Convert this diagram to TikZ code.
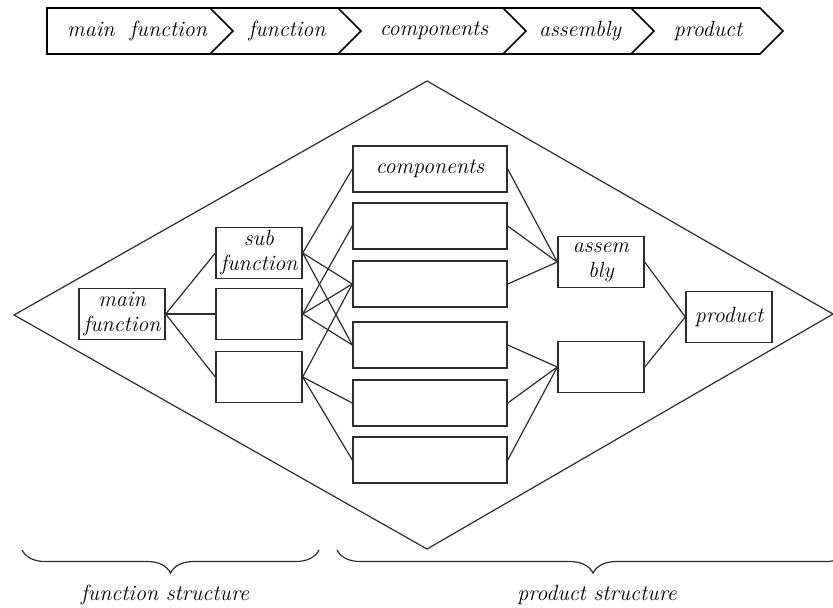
\documentclass[tikz,border=0pt]{standalone}
\usetikzlibrary{decorations.pathreplacing}
\definecolor{linec}{RGB}{45,45,45}
\begin{document}
\begin{tikzpicture}[x=0.5pt,y=-0.5pt,
  txt/.style={font=\itshape\fontsize{11}{12.5}\selectfont},
  box/.style={draw=linec, line width=0.7pt, minimum width=43pt, minimum height=25.5pt,
    inner sep=1pt, align=center, txt},
  comp/.style={box, minimum width=77pt, minimum height=23pt},
  link/.style={draw=linec, line width=0.6pt},
  bar/.style={draw=black, line width=0.8pt, line join=miter},
  bracedeco/.style={draw=linec, line width=0.6pt, decorate,
    decoration={brace, mirror, amplitude=11.5pt}},
  lbl/.style={txt, inner sep=0pt}]
\clip (0,0) rectangle (833,607);

% process chain along the top
\draw[bar] (47,8) -- (760,8) -- (783,31) -- (760,54) -- (47,54) -- cycle;
\foreach \xs in {210,338,503,631}
  \draw[bar] (\xs,8) -- ({\xs+23},31) -- (\xs,54);
\node[lbl] (t1) at (137,31) {main\ \ function};
\node[lbl] (t2) at (287,31) {function};
\node[lbl] (t3) at (434,31) {components};
\node[lbl] (t4) at (580,31) {assembly};
\node[lbl] (t5) at (708,31) {product};

% outer diamond
\coordinate (dl) at (14,315);
\coordinate (dt) at (427,81);
\coordinate (dr) at (833,314);
\coordinate (db) at (427,549);
\draw[link] (dl) -- (dt) -- (dr) -- (db) -- cycle;

% function structure
\node[box] (mf) at (122,314) {main\\function};
\node[box] (sf1) at (259,253) {sub\\function};
\node[box] (sf2) at (259,314) {};
\node[box] (sf3) at (259,377) {};

% components
\node[comp] (c1) at (430,169) {components};
\node[comp] (c2) at (430,226) {};
\node[comp] (c3) at (430,284) {};
\node[comp] (c4) at (430,345) {};
\node[comp] (c5) at (430,403) {};
\node[comp] (c6) at (430,460) {};

% assemblies and product
\node[box] (a1) at (601,262) {assem\\bly};
\node[box] (a2) at (601,367) {};
\node[box] (p) at (729,317) {product};

% connectors
\foreach \s in {sf1,sf2,sf3} \draw[link] (mf.east) -- (\s.west);
\foreach \c in {c1,c3,c4} \draw[link] (sf1.east) -- (\c.west);
\foreach \c in {c2,c3,c4} \draw[link] (sf2.east) -- (\c.west);
\foreach \c in {c3,c5,c6} \draw[link] (sf3.east) -- (\c.west);
\foreach \c in {c1,c2,c3} \draw[link] (\c.east) -- (a1.west);
\foreach \c in {c4,c5,c6} \draw[link] (\c.east) -- (a2.west);
\foreach \a in {a1,a2} \draw[link] (\a.east) -- (p.west);

% braces below
\coordinate (fb1) at (22,550);
\coordinate (fb2) at (319,550);
\coordinate (pb1) at (337,550);
\coordinate (pb2) at (849,550);
\draw[bracedeco] (fb1) -- (fb2);
\draw[bracedeco] (pb1) -- (pb2);
\node[lbl] (fs) at (165,595) {function structure};
\node[lbl] (ps) at (597,595) {product structure};
\end{tikzpicture}
\end{document}
